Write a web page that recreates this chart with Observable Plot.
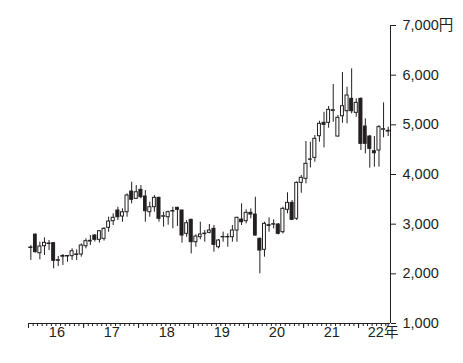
<!DOCTYPE html>
<html><head><meta charset="utf-8">
<script src="https://cdn.jsdelivr.net/npm/d3@7"></script>
<script src="https://cdn.jsdelivr.net/npm/@observablehq/plot@0.6"></script>
<style>
html,body{margin:0;padding:0;background:#fff;}
#chart svg{display:block;}
</style></head><body><div id="chart"></div>
<script>
// Monthly candles, Jan 2016 .. Jul 2022
const firstMonth = "2016-01-01";
const open  = [2520,2790,2415,2556,2600,2617,2262,2360,2350,2355,2390,2389,2556,2650,2771,2685,2705,2926,3060,3275,
               3154,3241,3657,3510,3691,3557,3241,3342,3530,3150,3140,3255,3329,3275,2805,3087,2637,2738,2800,2825,
               2906,2536,2735,2742,2738,2872,3093,3060,3228,3194,2705,2483,2965,2990,2993,2838,3289,3429,3108,3832,
               3913,4295,4335,4771,5040,5040,5280,4764,5173,5274,5523,5241,5523,4966,4765,4469,4483,4900,4880];
const high  = [2570,2800,2637,2725,2671,2630,2349,2389,2369,2503,2483,2604,2705,2771,2790,2872,2930,3140,3208,3342,
               3309,3611,3844,3778,3778,3677,3442,3577,3544,3241,3262,3342,3340,3280,3073,3100,2785,3039,2872,2993,
               2973,2691,2839,2805,2973,3140,3409,3289,3309,3543,2720,3039,3128,3087,3013,3342,3631,3476,3850,3979,
               4664,4650,4785,5073,5253,5368,5811,5187,6053,5757,6127,5523,5543,5120,4785,4765,4986,5442,4953];
const low   = [2270,2420,2282,2369,2469,2101,2147,2168,2234,2268,2268,2335,2503,2570,2640,2620,2660,2838,2973,3073,
               3039,3140,3410,3500,3510,3039,3140,3241,3039,2939,2979,2906,2953,2617,2738,2402,2536,2685,2637,2805,
               2435,2503,2637,2536,2637,2637,2973,3007,3107,2760,2000,2335,2838,2906,2785,2805,3208,3073,3073,3623,
               3812,4134,4247,4650,4537,4932,5052,4751,5032,5020,5221,5153,4483,4416,4127,4147,4147,4738,4764];
const close = [2530,2435,2550,2624,2610,2262,2275,2345,2360,2455,2380,2570,2657,2665,2685,2858,2906,3053,3128,3140,
               3240,3577,3490,3643,3543,3261,3342,3530,3108,3160,3241,3265,3289,2771,3019,2637,2751,2792,2810,2872,
               2584,2671,2742,2735,2872,3128,3039,3228,3194,2771,2469,3006,2980,3000,2805,3309,3429,3087,3832,3933,
               4215,4305,4718,5020,5000,5302,5295,5141,5375,5590,5274,5442,4617,4617,4517,4428,4953,4912,4865];

const yTicks = [1000,2000,3000,4000,5000,6000,7000];
const yUnit = "円";
const yearLabels = ["16","17","18","19","20","21","22年"];
const yearLabelDates = ["2016-07-01","2017-07-01","2018-07-01","2019-07-01","2020-07-01","2021-07-01","2022-06-06"];

const ink = "#231f20";
const start = new Date(firstMonth);
const months = d3.utcMonth.range(start, d3.utcMonth.offset(start, open.length));
const end = d3.utcMonth.offset(start, open.length);
const data = months.map((d, i) => {
  const next = d3.utcMonth.offset(d, 1);
  return {date: d, next, mid: new Date((+d + +next) / 2),
          open: open[i], high: high[i], low: low[i], close: close[i]};
});
const yearStarts = d3.utcYear.range(start, end);
const fmt = d3.format(",");

const chart = Plot.plot({
  width: 463, height: 363,
  marginLeft: 28, marginRight: 73, marginTop: 25, marginBottom: 40,
  x: {type: "utc", domain: [start, end], axis: null},
  y: {domain: [1000, 7000], axis: null},
  style: {fontFamily: "'Liberation Sans', Arial, 'Noto Sans CJK JP', sans-serif", fontSize: "14.5px", color: ink, background: "#fff"},
  marks: [
    Plot.ruleX(data, {x: "mid", y1: "low", y2: "high", stroke: ink, strokeWidth: 1}),
    Plot.rect(data, {x1: "date", x2: "next", y1: "open", y2: "close", insetLeft: 0.8, insetRight: 0.8,
      fill: d => d.close >= d.open ? "#fff" : ink, stroke: ink, strokeWidth: 1}),
    Plot.ruleY([1000], {stroke: ink, strokeWidth: 1}),
    Plot.ruleX([end], {stroke: ink, strokeWidth: 1}),
    Plot.axisX(months, {tickSize: 3, tickFormat: () => "", stroke: ink}),
    Plot.axisX(yearStarts, {tickSize: 5, tickFormat: () => "", stroke: ink}),
    Plot.axisY(yTicks, {anchor: "right", tickSize: 5, tickPadding: 7, stroke: ink, fill: ink,
      tickFormat: d => fmt(d) + (d === 7000 ? yUnit : "")}),
    Plot.text(yearLabels, {x: (d, i) => new Date(yearLabelDates[i]), y: () => 1000, dy: 9, dx: 1,
      fill: ink, textAnchor: "middle"})
  ]
});
document.getElementById("chart").appendChild(chart);
</script></body></html>
